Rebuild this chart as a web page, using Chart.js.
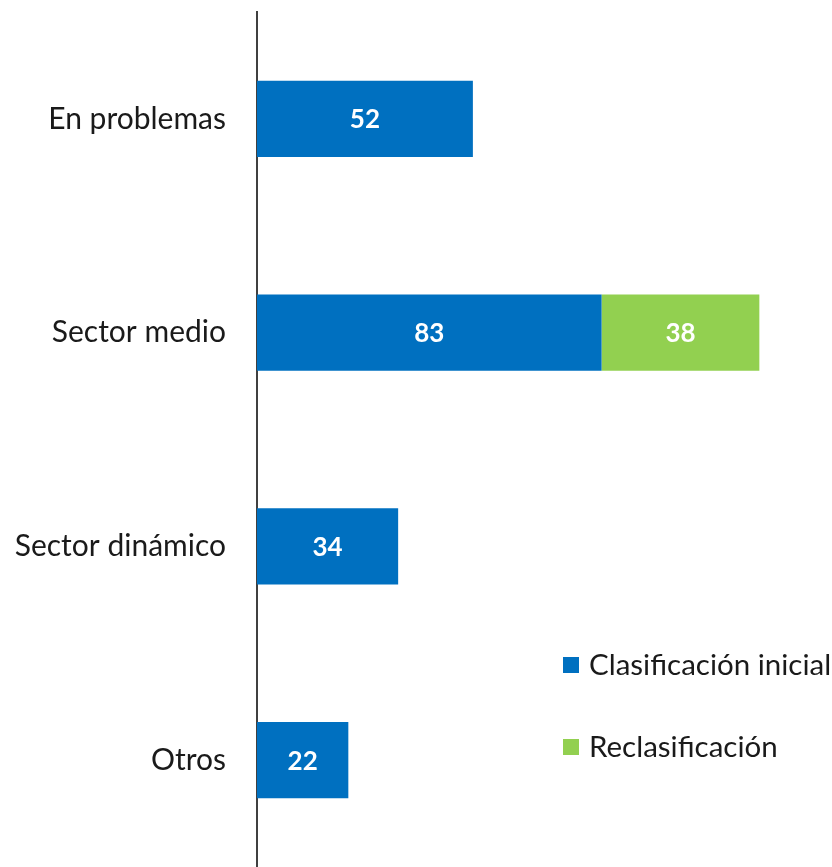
<!DOCTYPE html>
<html>
<head>
<meta charset="utf-8">
<script src="https://cdn.jsdelivr.net/npm/chart.js@4"></script>
<style>
  html, body { margin: 0; padding: 0; background: #fff; }
  #wrap { width: 832px; height: 867px; }
</style>
</head>
<body>
<div id="wrap"><canvas id="drawChart"></canvas></div>
<script>
const categories = ['En problemas', 'Sector medio', 'Sector dinámico', 'Otros'];
const inicial = [52, 83, 34, 22];
const reclasif = [null, 38, null, null];
const seriesNames = ['Clasificación inicial', 'Reclasificación'];
const blue = '#0070C0';
const green = '#92D050';
const fontFamily = 'Lato, "Open Sans", sans-serif';

// white numbers inside the bars
const barLabels = {
    id: 'barLabels',
    afterDatasetsDraw(chart) {
        const ctx = chart.ctx;
        ctx.save();
        ctx.font = 'bold 26px ' + fontFamily;
        ctx.fillStyle = '#fff';
        ctx.textAlign = 'center';
        ctx.textBaseline = 'middle';
        chart.data.datasets.forEach((ds, i) => {
            chart.getDatasetMeta(i).data.forEach((bar, j) => {
                const v = ds.data[j];
                if (v == null) return;
                ctx.fillText(v, (bar.x + bar.base) / 2, bar.y + 1);
            });
        });
        ctx.restore();
    }
};

// legend in the lower right, stacked
const sideLegend = {
    id: 'sideLegend',
    afterDraw(chart) {
        const ctx = chart.ctx;
        const colors = [blue, green];
        ctx.save();
        ctx.font = '29.5px ' + fontFamily;
        ctx.textBaseline = 'middle';
        ctx.textAlign = 'left';
        seriesNames.forEach((name, i) => {
            const y = 665 + i * 82;
            ctx.fillStyle = colors[i];
            ctx.fillRect(563, y - 8, 16, 16);
            ctx.fillStyle = '#1a1a1a';
            ctx.fillText(name, 589, y);
        });
        ctx.restore();
    }
};

const ctx = document.getElementById('drawChart').getContext('2d');
const myChart = new Chart(ctx, {
    type: 'bar',
    data: {
        labels: categories,
        datasets: [{
            label: seriesNames[0],
            data: inicial,
            backgroundColor: blue,
            borderWidth: 0,
            categoryPercentage: 1,
            barPercentage: 0.357
        }, {
            label: seriesNames[1],
            data: reclasif,
            backgroundColor: green,
            borderWidth: 0,
            categoryPercentage: 1,
            barPercentage: 0.357
        }]
    },
    options: {
        indexAxis: 'y',
        responsive: true,
        maintainAspectRatio: false,
        animation: false,
        layout: { padding: { top: 12, right: 0, bottom: 0, left: 0 } },
        plugins: {
            legend: { display: false },
            tooltip: { enabled: false }
        },
        scales: {
            x: {
                stacked: true,
                min: 0,
                max: 138.5,
                display: false
            },
            y: {
                stacked: true,
                grid: { display: false, drawTicks: false },
                border: { display: true, color: '#404040', width: 2 },
                ticks: {
                    color: '#1a1a1a',
                    padding: 31,
                    font: { family: fontFamily, size: 30 }
                },
                afterFit(scale) {
                    scale.width = 257;
                    scale.paddingTop = 0;
                    scale.paddingBottom = 0;
                }
            }
        }
    },
    plugins: [barLabels, sideLegend]
});
</script>
</body>
</html>
